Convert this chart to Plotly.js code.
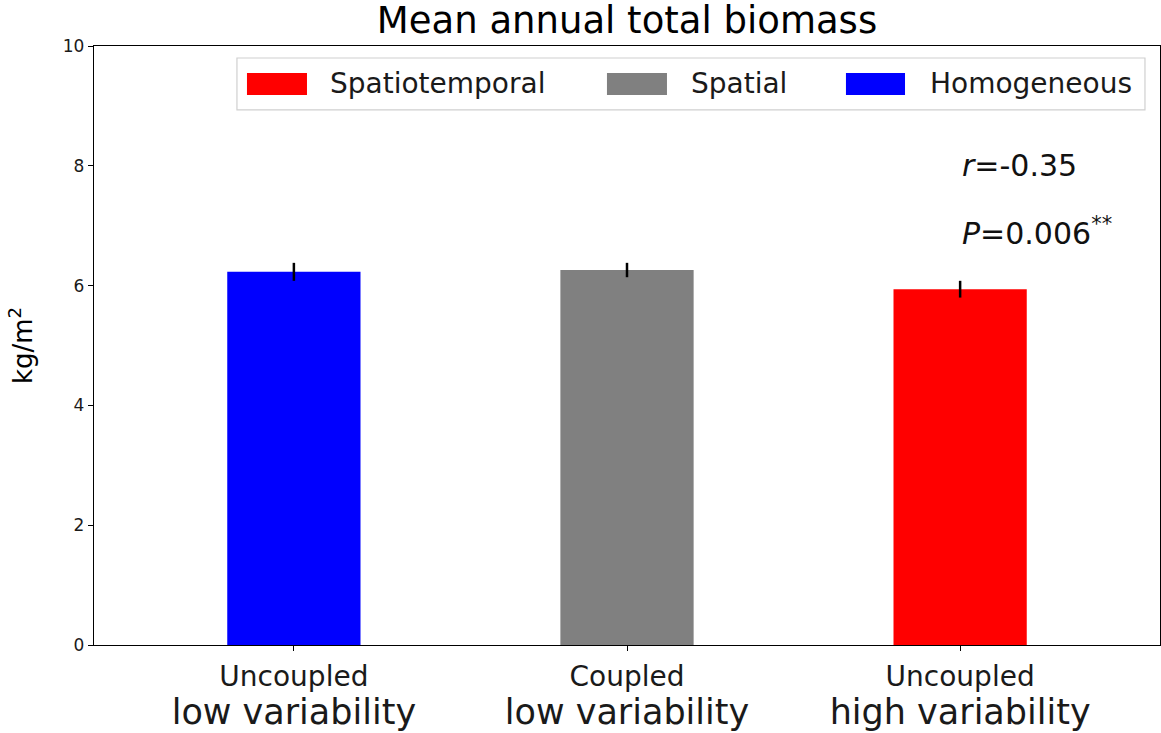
<!DOCTYPE html>
<html>
<head>
<meta charset="utf-8">
<script src="https://cdn.plot.ly/plotly-3.0.1.min.js"></script>
<style>
html,body{margin:0;padding:0;background:#fff;}
#chart{width:1161px;height:733px;}
</style>
</head>
<body>
<div id="chart"></div>
<script>
// ---- data ----
const coupling = ['Uncoupled', 'Coupled', 'Uncoupled'];
const variability = ['low variability', 'low variability', 'high variability'];
const scenarios = ['Homogeneous', 'Spatial', 'Spatiotemporal'];
const meanBiomass = [6.23, 6.26, 5.94];
const errBiomass = [0.15, 0.12, 0.14];
const barColors = ['#0000ff', '#808080', '#ff0000'];
const statR = '-0.35';
const statP = '0.006';

const positions = [0, 1, 2];
const tickLabels = coupling.map((c, i) =>
  '<span style="font-size:28px">' + c + '</span><br><span style="font-size:35px">' + variability[i] + '</span>');

const traces = positions.map(i => ({
  type: 'bar',
  name: scenarios[i],
  x: [positions[i]],
  y: [meanBiomass[i]],
  width: 0.4,
  showlegend: false,
  marker: {color: barColors[i], line: {width: 0}},
  error_y: {type: 'data', array: [errBiomass[i]], visible: true,
            color: '#000', thickness: 2.5, width: 0}
}));

// ---- legend (drawn as patches + labels, matplotlib style) ----
const legendOrder = [2, 1, 0];          // Spatiotemporal, Spatial, Homogeneous
const legendPatchX = [[0.1435, 0.1998], [0.4812, 0.5375], [0.7054, 0.7608]];
const legendTextX = [0.2195, 0.5582, 0.7824];
const shapes = [
  {type: 'rect', xref: 'paper', yref: 'paper', x0: 0.1341, x1: 0.9859, y0: 0.8932, y1: 0.98,
   fillcolor: 'rgba(255,255,255,0.8)', line: {color: '#d0d0d0', width: 1.2}, layer: 'above'}
];
const font = 'DejaVu Sans, sans-serif';
const annotations = [];
legendOrder.forEach((idx, k) => {
  shapes.push({type: 'rect', xref: 'paper', yref: 'paper',
    x0: legendPatchX[k][0], x1: legendPatchX[k][1], y0: 0.9182, y1: 0.9549,
    fillcolor: barColors[idx], line: {width: 0}, layer: 'above'});
  annotations.push({xref: 'paper', yref: 'paper', x: legendTextX[k], y: 0.9366,
    xanchor: 'left', yanchor: 'middle', text: scenarios[idx], showarrow: false,
    font: {size: 28, family: font, color: '#1a1a1a'}});
});

annotations.push(
  {x: 2.0, y: 8.0, xref: 'x', yref: 'y', xanchor: 'left', yanchor: 'middle',
   text: '<i>r</i>=' + statR, showarrow: false,
   font: {size: 30, family: font, color: '#111'}},
  {x: 2.0, y: 6.9, xref: 'x', yref: 'y', xanchor: 'left', yanchor: 'middle',
   text: '<i>P</i>=' + statP + '<sup>**</sup>', showarrow: false,
   font: {size: 30, family: font, color: '#111'}}
);

const layout = {
  width: 1161, height: 733,
  margin: {l: 94, r: 1, t: 46, b: 88},
  paper_bgcolor: '#fff', plot_bgcolor: '#fff',
  barmode: 'overlay',
  font: {family: font, color: '#000'},
  title: {text: 'Mean annual total biomass', font: {size: 37, family: font, color: '#000'},
          x: 0.5, xref: 'paper', xanchor: 'center', y: 0.972, yanchor: 'middle'},
  xaxis: {
    range: [-0.6, 2.6], tickvals: positions, ticktext: tickLabels,
    ticks: 'outside', ticklen: 5, tickcolor: '#000', tickwidth: 1,
    showline: true, mirror: true, linecolor: '#000', linewidth: 1.3,
    showgrid: false, zeroline: false,
    tickfont: {size: 29, family: font, color: '#1a1a1a'}
  },
  yaxis: {
    range: [0, 10], tickvals: [0, 2, 4, 6, 8, 10],
    ticks: 'outside', ticklen: 5, tickcolor: '#000', tickwidth: 1,
    showline: true, mirror: true, linecolor: '#000', linewidth: 1.3,
    showgrid: false, zeroline: false,
    tickfont: {size: 17, family: font, color: '#1a1a1a'},
    title: {text: 'kg/m<sup>2</sup>', font: {size: 26, family: font, color: '#000'}, standoff: 22}
  },
  shapes: shapes,
  annotations: annotations,
  showlegend: false
};

Plotly.newPlot('chart', traces, layout, {displayModeBar: false, staticPlot: true});
</script>
</body>
</html>
